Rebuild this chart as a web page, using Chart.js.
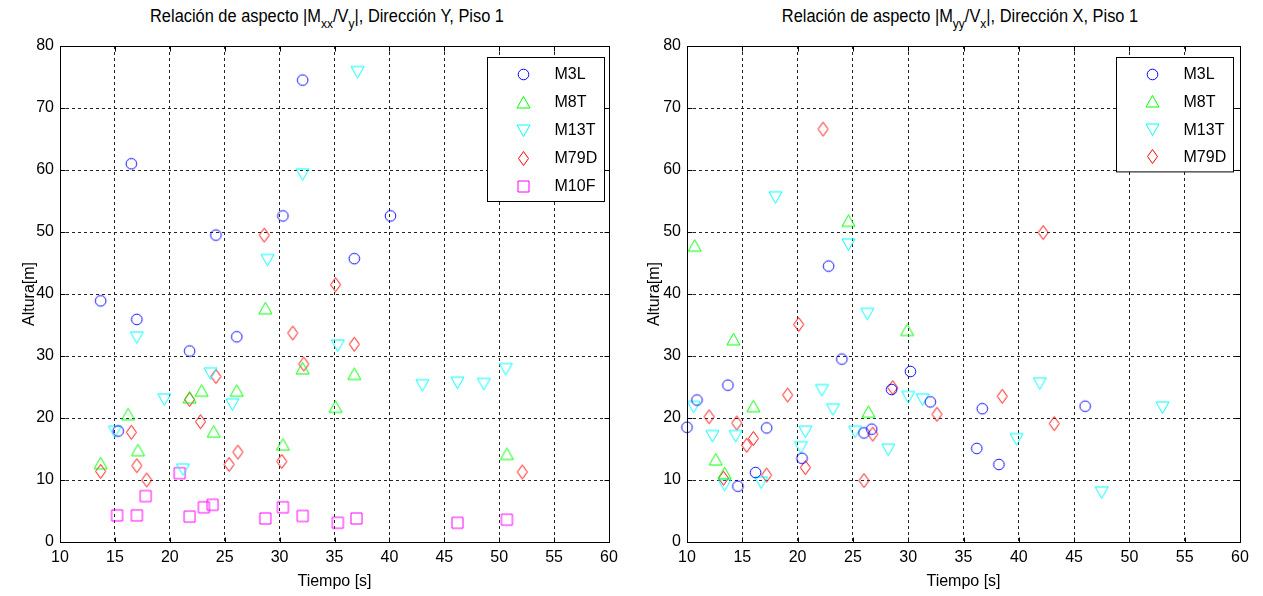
<!DOCTYPE html>
<html>
<head>
<meta charset="utf-8">
<script src="https://cdn.jsdelivr.net/npm/chart.js@4"></script>
<style>
  body { margin: 0; background: #fff; width: 1263px; height: 596px; position: relative; overflow: hidden;
         font-family: "Liberation Sans", Arial, sans-serif; }
  canvas { position: absolute; top: 0; }
  .ttl { position: absolute; top: 4px; width: 600px; text-align: center; font-size: 16.4px; line-height: 20px; color: #000;
         white-space: nowrap; transform: scaleY(1.14); transform-origin: 50% 0; }
  .ttl sub { font-size: 12px; vertical-align: -5px; line-height: 0; }
</style>
</head>
<body>
<div class="ttl" style="left:27px">Relación de aspecto |M<sub>xx</sub>/V<sub>y</sub>|, Dirección Y, Piso 1</div>
<div class="ttl" style="left:660px">Relación de aspecto |M<sub>yy</sub>/V<sub>x</sub>|, Dirección X, Piso 1</div>
<canvas id="dirY" width="630" height="596" style="left:0"></canvas>
<canvas id="dirX" width="633" height="596" style="left:630px"></canvas>
<script>
// periodo [s], altura [m] — direccion Y
const m3lY  = [[32.1,74.5],[16.5,61.0],[30.3,52.6],[24.2,49.5],[40.1,52.6],[36.8,45.7],[13.7,38.9],[17.0,35.9],[26.1,33.1],[21.8,30.8],[15.3,17.9]];
const m8tY  = [[28.7,37.7],[32.1,28.0],[22.9,24.4],[26.1,24.4],[21.8,23.3],[35.1,21.8],[16.2,20.6],[24.0,17.8],[17.1,14.8],[30.3,15.7],[13.7,12.7],[36.8,27.1],[50.7,14.2]];
const m13tY = [[37.1,75.8],[32.1,59.3],[28.9,45.5],[17.0,33.0],[35.3,31.7],[23.7,27.2],[19.5,23.0],[25.7,22.2],[15.0,17.8],[21.2,11.7],[43.0,25.3],[46.2,25.7],[48.6,25.5],[50.6,27.9]];
const m79dY = [[28.6,49.5],[35.1,41.5],[31.2,33.7],[32.2,28.7],[24.2,26.7],[21.8,23.0],[22.8,19.4],[16.5,17.7],[26.2,14.5],[30.2,13.0],[25.4,12.5],[17.0,12.3],[13.7,11.4],[17.9,10.0],[36.8,31.9],[52.1,11.3]];
const m10fY = [[20.9,11.1],[17.8,7.4],[15.2,4.3],[17.0,4.3],[21.8,4.1],[23.1,5.6],[23.9,6.0],[28.7,3.8],[30.3,5.6],[32.1,4.2],[35.3,3.1],[37.0,3.8],[46.2,3.1],[50.7,3.6]];

// direccion X
const m3lX  = [[22.8,44.5],[24.0,29.5],[30.2,27.5],[13.7,25.3],[28.5,24.6],[10.9,22.9],[32.0,22.6],[10.0,18.5],[17.2,18.4],[20.4,13.5],[26.0,17.6],[26.7,18.2],[16.2,11.2],[14.6,9.0],[36.7,21.5],[46.0,21.9],[36.2,15.1],[38.2,12.5]];
const m8tX  = [[24.6,51.8],[10.7,47.8],[14.2,32.7],[29.9,34.2],[16.0,21.9],[26.4,21.0],[12.6,13.3],[13.4,11.1]];
const m13tX = [[18.0,55.6],[24.6,48.0],[26.3,36.8],[22.2,24.5],[10.6,21.8],[23.2,21.4],[30.0,23.4],[31.3,23.0],[12.3,17.1],[14.4,17.1],[20.7,17.8],[20.3,15.3],[25.2,17.8],[28.2,14.9],[13.4,9.2],[16.7,9.6],[41.9,25.6],[53.0,21.7],[39.8,16.6],[47.5,8.0]];
const m79dX = [[22.3,66.6],[42.2,49.9],[20.1,35.1],[28.6,24.9],[19.1,23.7],[32.6,20.6],[12.0,20.2],[14.5,19.2],[16.0,16.7],[15.4,15.6],[20.7,12.0],[26.8,17.4],[26.0,9.9],[13.3,10.3],[17.2,10.8],[38.5,23.5],[43.2,19.1]];

const xTicks = [10, 15, 20, 25, 30, 35, 40, 45, 50, 55, 60];
const yTicks = [0, 10, 20, 30, 40, 50, 60, 70, 80];

const FONT = "'Liberation Sans', Arial, sans-serif";

// matlab-like hollow markers as small canvases
function marker(shape, color) {
  const c = document.createElement('canvas');
  c.width = 17; c.height = 17;
  const g = c.getContext('2d');
  g.strokeStyle = color; g.lineWidth = 1;
  g.beginPath();
  const m = 8.5;
  if (shape === 'o') g.arc(m, m, 5.3, 0, Math.PI * 2);
  if (shape === '^') { g.moveTo(m, m - 6); g.lineTo(m + 6.5, m + 5.5); g.lineTo(m - 6.5, m + 5.5); g.closePath(); }
  if (shape === 'v') { g.moveTo(m, m + 6); g.lineTo(m + 6.5, m - 5.5); g.lineTo(m - 6.5, m - 5.5); g.closePath(); }
  if (shape === 'd') { g.moveTo(m, m - 7); g.lineTo(m + 5, m); g.lineTo(m, m + 7); g.lineTo(m - 5, m); g.closePath(); }
  if (shape === 's') g.rect(m - 5.5, m - 5.5, 11, 11);
  g.stroke();
  return c;
}

const series = {
  M3L:  marker('o', '#0000ff'),
  M8T:  marker('^', '#00ff00'),
  M13T: marker('v', '#00ffff'),
  M79D: marker('d', '#ff0000'),
  M10F: marker('s', '#ff00ff')
};

function ds(label, pts) {
  return {
    label,
    data: pts.map(p => ({ x: p[0], y: p[1] })),
    pointStyle: series[label],
    pointRadius: 8,
    clip: false
  };
}

// axes box, inner ticks and the boxed legend
const matlabAxes = {
  id: 'matlabAxes',
  afterDraw(chart, args, opts) {
    const { ctx, chartArea: a, scales } = chart;
    const L = Math.round(a.left) + 0.5, R = Math.round(a.right) + 0.5;
    const T = Math.round(a.top) + 0.5, B = Math.round(a.bottom) + 0.5;
    ctx.save();
    ctx.strokeStyle = '#000';
    ctx.lineWidth = 1;
    ctx.beginPath();
    xTicks.forEach(v => {
      const px = Math.round(scales.x.getPixelForValue(v)) + 0.5;
      ctx.moveTo(px, B); ctx.lineTo(px, B - 5);
      ctx.moveTo(px, T); ctx.lineTo(px, T + 5);
    });
    yTicks.forEach(v => {
      const py = Math.round(scales.y.getPixelForValue(v)) + 0.5;
      ctx.moveTo(L, py); ctx.lineTo(L + 5, py);
      ctx.moveTo(R, py); ctx.lineTo(R - 5, py);
    });
    ctx.stroke();
    ctx.strokeRect(L, T, R - L, B - T);

    // legend
    const items = chart.data.datasets;
    const rowH = opts.rowH;
    const w = 117, h = items.length * rowH + 4;
    const bx = Math.round(a.right - opts.inset - w) + 0.5;
    const by = Math.round(a.top + 11) + 0.5;
    ctx.fillStyle = '#fff';
    ctx.fillRect(bx, by, w, h);
    ctx.strokeRect(bx, by, w, h);
    ctx.font = '16px ' + FONT;
    ctx.textBaseline = 'middle';
    ctx.fillStyle = '#000';
    items.forEach((d, i) => {
      const cy = by + 16.5 + i * rowH;
      ctx.drawImage(d.pointStyle, Math.round(bx + 36 - 8.5), Math.round(cy - 8.5));
      ctx.fillText(d.label, bx + 67, cy + 1);
    });
    ctx.restore();
  }
};

function makeChart(id, datasets, yWidth, yTitlePad, inset, rowH) {
  new Chart(document.getElementById(id), {
    type: 'scatter',
    data: { datasets },
    options: {
      responsive: false,
      animation: false,
      events: [],
      layout: { padding: { top: 46, right: id === 'dirY' ? 21 : 23, left: 0, bottom: 0 } },
      plugins: {
        legend: { display: false },
        tooltip: { enabled: false },
        matlabAxes: { inset, rowH }
      },
      scales: {
        x: {
          type: 'linear', min: 10, max: 60,
          afterBuildTicks: s => { s.ticks = xTicks.map(v => ({ value: v })); },
          afterFit: s => { s.height = 54; },
          grid: { color: '#222', lineWidth: 1, drawTicks: false },
          border: { display: false, dash: [3, 3] },
          ticks: { color: '#000', font: { family: FONT, size: 16 }, padding: 6, maxRotation: 0 },
          title: { display: true, text: 'Tiempo [s]', color: '#000', font: { family: FONT, size: 16 }, padding: { top: 0, bottom: 5 } }
        },
        y: {
          type: 'linear', min: 0, max: 80,
          afterBuildTicks: s => { s.ticks = yTicks.map(v => ({ value: v })); },
          afterFit: s => { s.width = yWidth; },
          grid: { color: '#222', lineWidth: 1, drawTicks: false },
          border: { display: false, dash: [3, 3] },
          ticks: { color: '#000', font: { family: FONT, size: 16 }, padding: 6 },
          title: { display: true, text: 'Altura[m]', color: '#000', font: { family: FONT, size: 16 }, padding: { top: yTitlePad, bottom: 0 } }
        }
      }
    },
    plugins: [matlabAxes]
  });
}

makeChart('dirY', [ds('M3L', m3lY), ds('M8T', m8tY), ds('M13T', m13tY), ds('M79D', m79dY), ds('M10F', m10fY)], 60, 20, 5, 28);
makeChart('dirX', [ds('M3L', m3lX), ds('M8T', m8tX), ds('M13T', m13tX), ds('M79D', m79dX)], 57, 15, 7.5, 27.6);
</script>
</body>
</html>
